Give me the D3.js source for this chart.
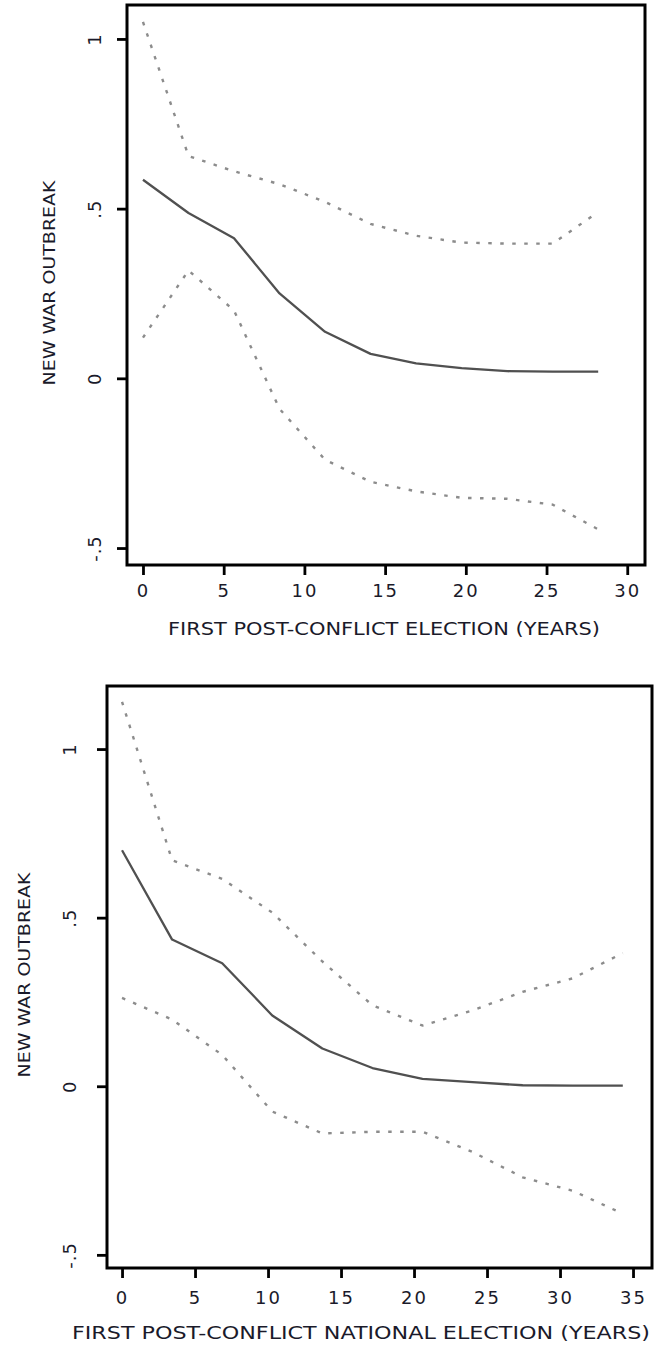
<!DOCTYPE html>
<html>
<head>
<meta charset="utf-8">
<script src="https://cdn.jsdelivr.net/npm/d3@7"></script>
<style>
  body { margin: 0; background: #fff; }
  svg { display: block; }
  text { font-family: "DejaVu Sans", Verdana, sans-serif; fill: #1a1a2a; }
</style>
</head>
<body>
<svg id="chart" width="654" height="1348"></svg>
<script>
// ---- data ----
const yTicks = [-0.5, 0, 0.5, 1];
const yTickLabels = ['-.5', '0', '.5', '1'];
const yTitle = 'NEW WAR OUTBREAK';

// panel 1: first post-conflict election
const years1 = [0, 2.82, 5.64, 8.46, 11.28, 14.1, 16.92, 19.74, 22.56, 25.38, 28.2];
const est1 = [0.585, 0.487, 0.413, 0.25, 0.137, 0.072, 0.044, 0.03, 0.021, 0.02, 0.02];
const upper1 = [1.05, 0.655, 0.61, 0.572, 0.52, 0.455, 0.42, 0.4, 0.397, 0.397, 0.49];
const lower1 = [0.12, 0.318, 0.2, -0.09, -0.24, -0.305, -0.333, -0.352, -0.355, -0.372, -0.445];
const xTicks1 = [0, 5, 10, 15, 20, 25, 30];
const xTitle1 = 'FIRST POST-CONFLICT ELECTION (YEARS)';

// panel 2: first post-conflict national election
const years2 = [0, 3.43, 6.86, 10.29, 13.72, 17.15, 20.58, 24.01, 27.44, 30.87, 34.3];
const est2 = [0.7, 0.435, 0.365, 0.21, 0.112, 0.054, 0.022, 0.012, 0.003, 0.002, 0.002];
const upper2 = [1.14, 0.67, 0.615, 0.515, 0.37, 0.24, 0.18, 0.225, 0.28, 0.32, 0.395];
const lower2 = [0.262, 0.198, 0.093, -0.075, -0.14, -0.135, -0.135, -0.195, -0.27, -0.31, -0.378];
const xTicks2 = [0, 5, 10, 15, 20, 25, 30, 35];
const xTitle2 = 'FIRST POST-CONFLICT NATIONAL ELECTION (YEARS)';

const svg = d3.select('#chart');

function drawPanel(p) {
  const { box } = p;
  const g = svg.append('g');

  const x = d3.scaleLinear().domain(p.xDomain).range([box.left, box.right]);
  const y = d3.scaleLinear().domain(p.yDomain).range([box.bottom, box.top]);

  const line = d3.line()
    .x((d) => x(d[0]))
    .y((d) => y(d[1]));

  const toPts = (vals) => p.years.map((yr, i) => [yr, vals[i]]);

  // confidence bounds
  for (const band of [p.upper, p.lower]) {
    g.append('path')
      .datum(toPts(band))
      .attr('d', line)
      .attr('fill', 'none')
      .attr('stroke', '#8c8c8c')
      .attr('stroke-width', 2.4)
      .attr('stroke-dasharray', '3.5,8.5');
  }

  // point estimate
  g.append('path')
    .datum(toPts(p.est))
    .attr('d', line)
    .attr('fill', 'none')
    .attr('stroke', '#505050')
    .attr('stroke-width', 2.3)
    .attr('stroke-linejoin', 'round');

  // frame
  g.append('rect')
    .attr('x', box.left)
    .attr('y', box.top)
    .attr('width', box.right - box.left)
    .attr('height', box.bottom - box.top)
    .attr('fill', 'none')
    .attr('stroke', '#000')
    .attr('stroke-width', 3);

  // y axis, labels turned on their side
  const yAxis = g.append('g')
    .attr('transform', `translate(${box.left},0)`)
    .call(
      d3.axisLeft(y)
        .tickValues(yTicks)
        .tickSize(10)
        .tickFormat((d, i) => yTickLabels[i])
    );
  yAxis.select('.domain').remove();
  yAxis.selectAll('.tick line').attr('stroke', '#000').attr('stroke-width', 2.8);
  yAxis.selectAll('.tick text')
    .attr('x', null)
    .attr('dy', null)
    .attr('text-anchor', 'middle')
    .attr('transform', `translate(${p.yLabelOffset},0) rotate(-90)`)
    .attr('letter-spacing', 1)
    .style('font-size', '18px')
    .style('font-family', null);

  // x axis
  const xAxis = g.append('g')
    .attr('transform', `translate(0,${box.bottom})`)
    .call(
      d3.axisBottom(x)
        .tickValues(p.xTicks)
        .tickSize(10)
        .tickFormat(d3.format('d'))
    );
  xAxis.select('.domain').remove();
  xAxis.selectAll('.tick line').attr('stroke', '#000').attr('stroke-width', 2.8);
  xAxis.selectAll('.tick text')
    .attr('y', p.xLabelOffset)
    .attr('dy', null)
    .attr('letter-spacing', 2)
    .style('font-size', '18px')
    .style('font-family', null);

  // titles
  g.append('text')
    .attr('transform', `translate(${p.yTitleX},${(box.top + box.bottom) / 2 - 2}) rotate(-90)`)
    .attr('text-anchor', 'middle')
    .attr('textLength', 205)
    .attr('lengthAdjust', 'spacingAndGlyphs')
    .style('font-size', '16px')
    .text(yTitle);

  g.append('text')
    .attr('x', p.xTitle.x)
    .attr('y', p.xTitle.y)
    .attr('textLength', p.xTitle.len)
    .attr('lengthAdjust', 'spacingAndGlyphs')
    .style('font-size', '17px')
    .text(p.xTitle.text);
}

drawPanel({
  box: { left: 127, right: 645, top: 5, bottom: 565 },
  xDomain: [-0.99, 31.1],
  yDomain: [-0.55, 1.1],
  years: years1,
  est: est1,
  upper: upper1,
  lower: lower1,
  xTicks: xTicks1,
  yLabelOffset: -26,
  xLabelOffset: 32,
  yTitleX: 55,
  xTitle: { text: xTitle1, x: 168, y: 635, len: 432 }
});

drawPanel({
  box: { left: 107, right: 652, top: 686, bottom: 1268 },
  xDomain: [-1.03, 36.3],
  yDomain: [-0.539, 1.187],
  years: years2,
  est: est2,
  upper: upper2,
  lower: lower2,
  xTicks: xTicks2,
  yLabelOffset: -31,
  xLabelOffset: 36,
  yTitleX: 30,
  xTitle: { text: xTitle2, x: 72, y: 1339, len: 578 }
});
</script>
</body>
</html>
